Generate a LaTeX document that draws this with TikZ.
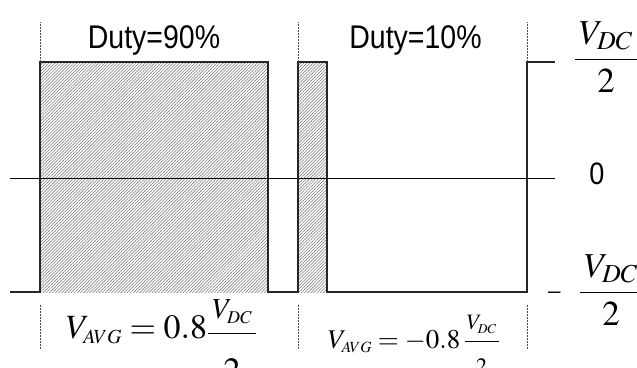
\documentclass[tikz,border=0pt]{standalone}
\usepackage{mathptmx}
\usepackage[no-math]{fontspec}
\usepackage{graphicx}
\newfontfamily\labelfont{Liberation Sans}
\usetikzlibrary{patterns.meta}
\DeclareMathSizes{34}{34}{20}{14}
\DeclareMathSizes{29}{29}{18}{13}
\DeclareMathSizes{27}{27}{15.5}{11}
\DeclareMathSizes{22}{22}{13.5}{10}

\begin{document}
\begin{tikzpicture}[x=1pt,y=1pt,
  wave/.style={black!85,line width=1.2pt,line join=miter},
  guide/.style={black!70,line width=0.6pt,dash pattern=on 2pt off 1pt},
  hatch/.style={pattern={Lines[angle=45,distance=2.2pt,line width=0.6pt]},pattern color=black!50},
  lbl/.style={inner sep=0pt,outer sep=0pt}]
  \useasboundingbox (0,0) rectangle (637,367);
  \clip (0,0) rectangle (637,367);
  % hatched pulses
  \fill[hatch] (40,75) rectangle (268,305);
  \fill[hatch] (298,75) rectangle (327,305);
  % zero level
  \draw[black,line width=0.8pt] (10,189) -- (555,189);
  % pulse train
  \draw[wave] (10,75) -- (40,75) -- (40,305) -- (268,305) -- (268,75)
    -- (298,75) -- (298,305) -- (327,305) -- (327,75)
    -- (527,75) -- (527,305) -- (555,305);
  % period markers
  \foreach \px in {40,298,527} {
    \draw[guide] (\px,305) -- (\px,345);
    \draw[guide] (\px,18) -- (\px,63);
  }
  \node[lbl,anchor=base] (duty90) at (154,318.7)
    {\labelfont\fontsize{28.5}{30}\selectfont\scalebox{1}[1.15]{Duty=90\%}};
  \node[lbl,anchor=base] (duty10) at (415.5,318.7)
    {\labelfont\fontsize{28.5}{30}\selectfont\scalebox{1}[1.15]{Duty=10\%}};
  \node[lbl] (vzero) at (597,193.5)
    {\labelfont\fontsize{27}{30}\selectfont\scalebox{1}[1.15]{0}};
  \node[lbl,anchor=base] (vhigh) at (606,299)
    {\fontsize{35}{42}\selectfont$\displaystyle\frac{\,V_{DC}\,}{2}$};
  \node[lbl] (vminus) at (555,74)
    {\fontsize{35}{42}\selectfont\scalebox{0.6}[1]{$-$}};
  \node[lbl,anchor=base] (vlow) at (611,66)
    {\fontsize{35}{42}\selectfont$\displaystyle\frac{\,V_{DC}\,}{2}$};
  \node[lbl,anchor=base west] (avg90) at (66,29)
    {\fontsize{34}{40}\selectfont$V_{AVG} = 0.8\raisebox{-4pt}{$\displaystyle
      \frac{\mbox{\hspace{4pt}\fontsize{29}{30}\selectfont$V_{DC}$\hspace{4pt}}}{\rule{0pt}{43pt}2}$}$};
  \node[lbl,anchor=base west] (avg10) at (328,19)
    {\fontsize{27}{30}\selectfont$V_{AVG} = -0.8\,\displaystyle
      \frac{\mbox{\hspace{2pt}\fontsize{22}{24}\selectfont$V_{DC}$\hspace{2pt}}}{\mbox{\fontsize{22}{24}\selectfont$\rule{0pt}{28pt}2$}}$};
\end{tikzpicture}
\end{document}
